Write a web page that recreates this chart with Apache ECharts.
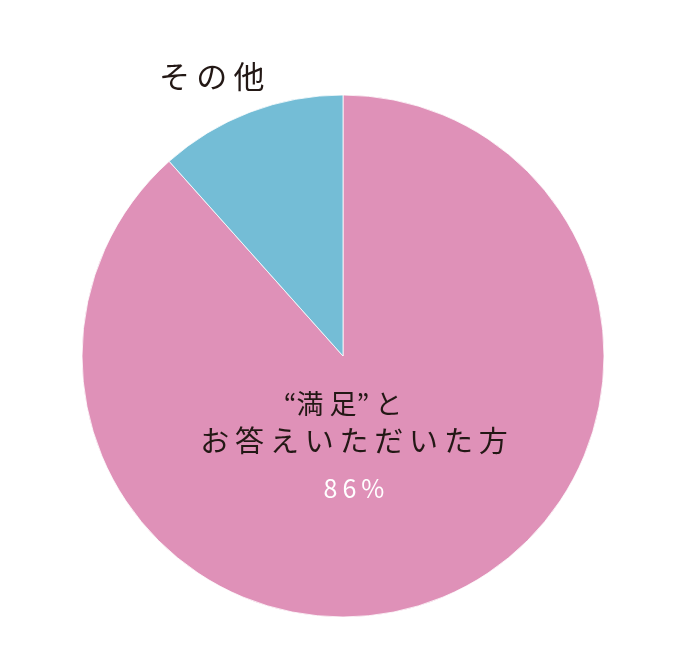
<!DOCTYPE html>
<html><head><meta charset="utf-8">
<script src="https://cdn.jsdelivr.net/npm/echarts@6/dist/echarts.min.js"></script>
<style>html,body{margin:0;padding:0;background:#fff}#c{width:689px;height:663px}</style>
</head><body><div id="c"></div>
<script>
const categories = ['“満足”と\nお答えいただいた方', 'その他'];
const values = [88.4, 11.6];
const valueLabels = ['86%', ''];
const colors = ['#DF91B8', '#74BDD6'];

const chart = echarts.init(document.getElementById('c'), null, {renderer: 'canvas'});
const ff = '"Noto Sans CJK JP", "Noto Sans", sans-serif';
chart.setOption({
  animation: false,
  backgroundColor: '#fff',
  series: [{
    type: 'pie',
    center: [343, 356],
    radius: [0, 261],
    startAngle: 90,
    clockwise: true,
    itemStyle: {borderColor: '#fff', borderWidth: 0.8},
    label: {show: false},
    labelLine: {show: false},
    data: categories.map((c, i) => ({name: c, value: values[i], itemStyle: {color: colors[i]}}))
  }],
  graphic: {elements: [
    {type: 'text', x: 343, y: 390, z: 100, style: {text: '\u201C満 足\u201D と', font: '400 27px ' + ff, fill: '#231815', align: 'center'}},
    {type: 'text', x: 354, y: 426, z: 100, style: {text: categories[0].split('\n')[1].split('').join('\u2009'), font: '400 29px ' + ff, fill: '#231815', align: 'center'}},
    {type: 'text', x: 354, y: 476, z: 100, style: {text: valueLabels[0].split('').join('\u2009'), font: '400 25px ' + ff, fill: '#ffffff', align: 'center'}},
    {type: 'text', x: 159, y: 61, z: 100, style: {text: categories[1].split('').join('\u2009'), font: '400 31px ' + ff, fill: '#231815'}}
  ]}
});
</script></body></html>
